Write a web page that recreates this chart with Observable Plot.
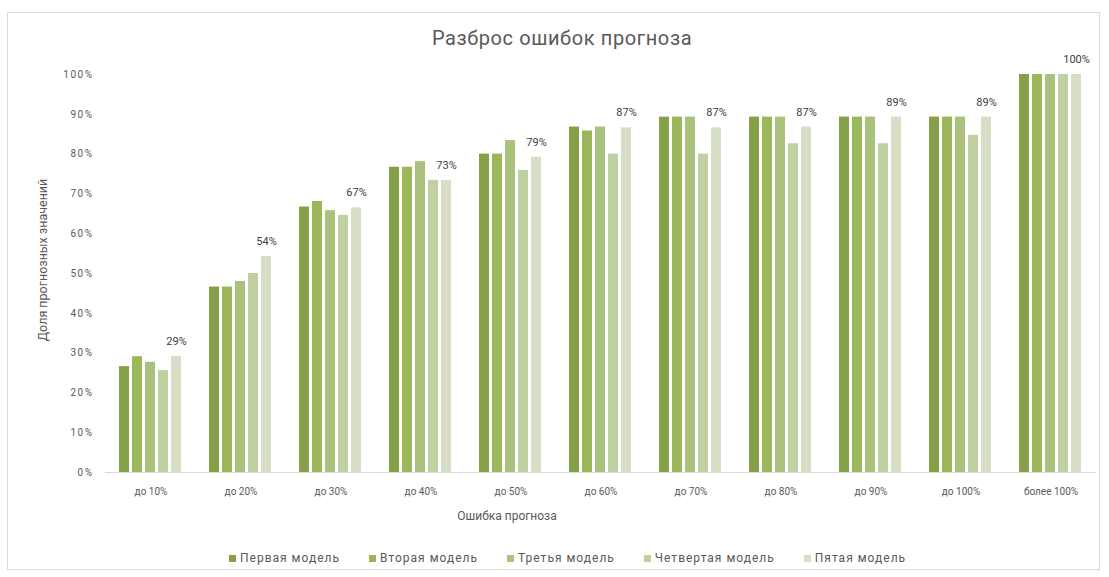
<!DOCTYPE html>
<html>
<head>
<meta charset="utf-8">
<script src="https://cdn.jsdelivr.net/npm/d3@7"></script>
<script src="https://cdn.jsdelivr.net/npm/@observablehq/plot@0.6"></script>
<style>
  body { margin: 0; background: #fff; font-family: Roboto, "Noto Sans", sans-serif; color: #595959; }
  #page { position: relative; width: 1109px; height: 577px; overflow: hidden; }
  #frame { position: absolute; left: 7px; top: 12px; width: 1093px; height: 558px; border: 1px solid #d9d9d9; box-sizing: border-box; }
  #title { position: absolute; left: 0; width: 1124px; top: 26px; text-align: center; font-size: 20px; letter-spacing: 0.6px; color: #595959; }
  #chart { position: absolute; left: 0; top: 40px; }
  #xtitle { position: absolute; left: 407px; width: 200px; top: 509px; text-align: center; font-size: 12px; color: #595959; }
  #ytitle { position: absolute; left: 42px; top: 260px; transform: translate(-50%, -50%) rotate(-90deg); white-space: nowrap; font-size: 12.5px; color: #595959; }
  #legend { position: absolute; left: 229px; top: 551px; display: flex; gap: 29px; font-size: 12px; letter-spacing: 1.0px; color: #595959; }
  #legend .item { display: flex; align-items: center; gap: 4px; }
  #legend .sw { width: 7px; height: 7px; display: inline-block; }
  #chart svg [aria-label="y-axis tick label"] text { letter-spacing: 1.5px; }
</style>
</head>
<body>
<div id="page">
  <div id="frame"></div>
  <div id="title">Разброс ошибок прогноза</div>
  <div id="chart"></div>
  <div id="xtitle">Ошибка прогноза</div>
  <div id="ytitle">Доля прогнозных значений</div>
  <div id="legend"></div>
</div>
<script>
const categories = ["до 10%", "до 20%", "до 30%", "до 40%", "до 50%", "до 60%", "до 70%", "до 80%", "до 90%", "до 100%", "более 100%"];
const models = ["Первая модель", "Вторая модель", "Третья модель", "Четвертая модель", "Пятая модель"];
const model1 = [26.6, 46.6, 66.7, 76.7, 80.0, 86.8, 89.3, 89.3, 89.3, 89.3, 100];
const model2 = [29.1, 46.6, 68.1, 76.7, 80.0, 85.8, 89.3, 89.3, 89.3, 89.3, 100];
const model3 = [27.7, 48.0, 65.8, 78.1, 83.4, 86.8, 89.3, 89.3, 89.3, 89.3, 100];
const model4 = [25.6, 50.0, 64.6, 73.4, 75.9, 80.0, 80.0, 82.6, 82.6, 84.7, 100];
const model5 = [29.1, 54.3, 66.5, 73.4, 79.2, 86.6, 86.6, 86.8, 89.3, 89.3, 100];
const yTicks = [0, 10, 20, 30, 40, 50, 60, 70, 80, 90, 100];
const colors = ["#86a047", "#9ab75a", "#aac27d", "#c0d1a1", "#d6dfc6"];

const seriesValues = [model1, model2, model3, model4, model5];
const data = [];
categories.forEach((c, i) => {
  models.forEach((m, j) => data.push({category: c, model: m, value: seriesValues[j][i]}));
});
const labelData = data.filter(d => d.model === models[4]);

const chart = Plot.plot({
  width: 1109,
  height: 490,
  marginLeft: 100,
  marginRight: 9,
  marginTop: 34,
  marginBottom: 58,
  style: {fontFamily: "Roboto, 'Noto Sans', sans-serif", fontSize: "10px", color: "#595959", background: "transparent", overflow: "visible"},
  fx: {domain: categories, paddingInner: 0.26, paddingOuter: 0.13, label: null, tickSize: 0, tickPadding: 15},
  x: {domain: models, paddingInner: 0.2, paddingOuter: 0, axis: null},
  y: {domain: [0, 100], ticks: yTicks, tickFormat: d => d + "%", label: null, tickSize: 0, tickPadding: 24},
  color: {domain: models, range: colors},
  marks: [
    Plot.ruleY([0], {stroke: "#d9d9d9", strokeWidth: 1, insetLeft: -12, insetRight: -12}),
    Plot.barY(data, {fx: "category", x: "model", y: "value", fill: "model"}),
    Plot.text(labelData, {fx: "category", x: "model", y: "value", text: d => Math.round(d.value) + "%", dy: -15, fontSize: 11, fill: "#404040"})
  ]
});
document.getElementById("chart").appendChild(chart);

const legend = document.getElementById("legend");
models.forEach((m, j) => {
  const item = document.createElement("div");
  item.className = "item";
  const sw = document.createElement("span");
  sw.className = "sw";
  sw.style.background = colors[j];
  const t = document.createElement("span");
  t.textContent = m;
  item.appendChild(sw);
  item.appendChild(t);
  legend.appendChild(item);
});
</script>
</body>
</html>
